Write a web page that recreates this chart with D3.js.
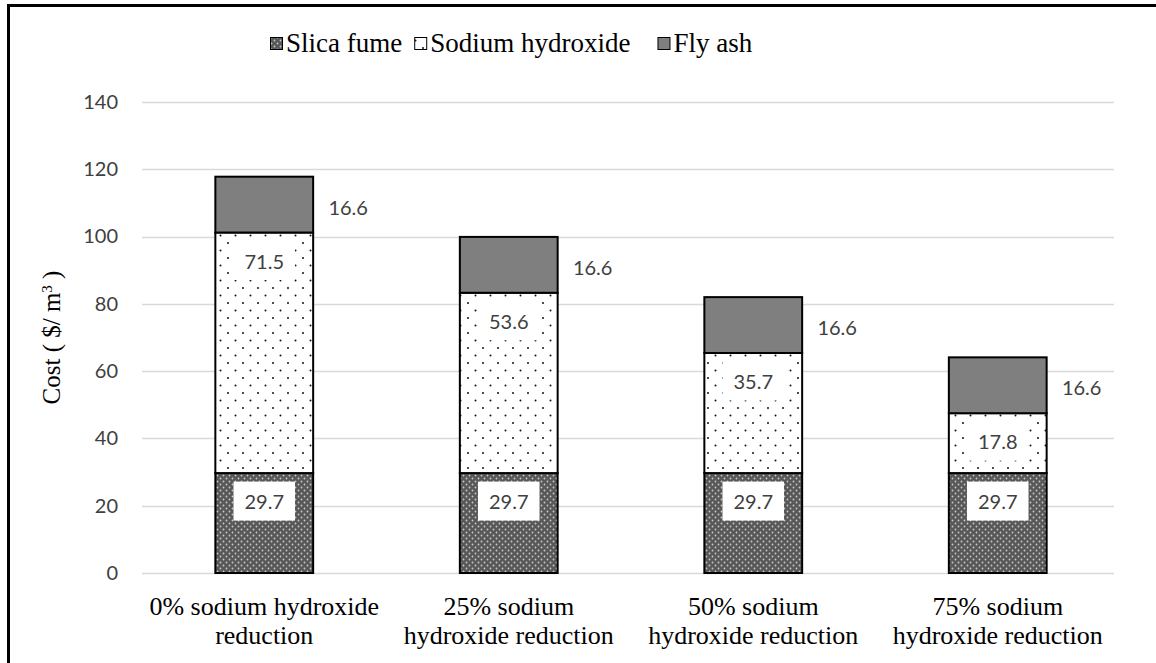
<!DOCTYPE html>
<html>
<head>
<meta charset="utf-8">
<script src="https://cdn.jsdelivr.net/npm/d3@7"></script>
<style>
  html, body { margin: 0; padding: 0; background: #fff; }
  svg { display: block; }
  .serif { font-family: "Liberation Serif", "Times New Roman", serif; fill: #000; }
  .sans { font-family: Lato, "Liberation Sans", sans-serif; fill: #404040; }
</style>
</head>
<body>
<svg id="chart" width="1156" height="663"></svg>
<script>
// Cost breakdown per mix ($/m3)
const categories = [
  "0% sodium hydroxide\nreduction",
  "25% sodium\nhydroxide reduction",
  "50% sodium\nhydroxide reduction",
  "75% sodium\nhydroxide reduction"
];
const seriesNames = ["Slica fume", "Sodium hydroxide", "Fly ash"];
const silicaFume = [29.7, 29.7, 29.7, 29.7];
const sodiumHydroxide = [71.5, 53.6, 35.7, 17.8];
const flyAsh = [16.6, 16.6, 16.6, 16.6];
const yTicks = [0, 20, 40, 60, 80, 100, 120, 140];

const W = 1156, H = 663;
const margin = { left: 142, right: 36, top: 102, bottom: 90 };
const svg = d3.select("#chart");

// Fill patterns
const defs = svg.append("defs");
const pSilica = defs.append("pattern").attr("id", "pat-silica")
  .attr("patternUnits", "userSpaceOnUse").attr("width", 6).attr("height", 6);
pSilica.append("rect").attr("width", 6).attr("height", 6).attr("fill", "#585858");
pSilica.append("circle").attr("cx", 1.5).attr("cy", 1.5).attr("r", 0.9).attr("fill", "#c9c9c9");
pSilica.append("circle").attr("cx", 4.5).attr("cy", 4.5).attr("r", 0.9).attr("fill", "#c9c9c9");

const pSodium = defs.append("pattern").attr("id", "pat-sodium")
  .attr("patternUnits", "userSpaceOnUse").attr("width", 15).attr("height", 15);
pSodium.append("rect").attr("width", 15).attr("height", 15).attr("fill", "#fff");
pSodium.append("circle").attr("cx", 3).attr("cy", 3).attr("r", 1).attr("fill", "#111");
pSodium.append("circle").attr("cx", 10.5).attr("cy", 10.5).attr("r", 1).attr("fill", "#111");

const fills = ["url(#pat-silica)", "url(#pat-sodium)", "#7f7f7f"];

// Outer frame (top and left edges)
svg.append("line").attr("x1", 7).attr("x2", W).attr("y1", 5.5).attr("y2", 5.5)
  .attr("stroke", "#000").attr("stroke-width", 3);
svg.append("line").attr("x1", 8.5).attr("x2", 8.5).attr("y1", 4).attr("y2", H)
  .attr("stroke", "#000").attr("stroke-width", 3);

const x = d3.scaleBand()
  .domain(d3.range(categories.length))
  .range([margin.left, W - margin.right])
  .paddingInner(0.6).paddingOuter(0.3);

const y = d3.scaleLinear().domain([0, 140]).range([H - margin.bottom, margin.top]);

// Gridlines
svg.append("g").selectAll("line").data(yTicks).join("line")
  .attr("x1", margin.left).attr("x2", W - margin.right - 6)
  .attr("y1", d => Math.round(y(d)) + 0.5).attr("y2", d => Math.round(y(d)) + 0.5)
  .attr("stroke", "#d9d9d9").attr("stroke-width", 1.5);

// Y axis labels
const yAxis = d3.axisLeft(y).tickValues(yTicks).tickSize(0).tickPadding(0);
const gy = svg.append("g").attr("transform", `translate(${margin.left - 24},0)`).call(yAxis);
gy.select(".domain").remove();
gy.attr("font-family", null).attr("font-size", null);
gy.selectAll("text").attr("class", "sans").attr("fill", null).style("font-size", "20px");

// Y axis title
const yTitle = svg.append("text")
  .attr("class", "serif")
  .attr("transform", `translate(60,${(y(0) + y(140)) / 2}) rotate(-90)`)
  .attr("text-anchor", "middle")
  .style("font-size", "25px");
yTitle.append("tspan").text("Cost ( $/ m");
yTitle.append("tspan").attr("baseline-shift", "super").style("font-size", "15px").text("3");
yTitle.append("tspan").text(" )");

// Stacked bars
const rows = categories.map((c, i) => ({ i, s0: silicaFume[i], s1: sodiumHydroxide[i], s2: flyAsh[i] }));
const stack = d3.stack().keys(["s0", "s1", "s2"])(rows);
const seriesValues = [silicaFume, sodiumHydroxide, flyAsh];

const barG = svg.append("g");
stack.forEach((layer, k) => {
  barG.append("g").selectAll("rect").data(layer).join("rect")
    .attr("x", d => x(d.data.i))
    .attr("y", d => y(d[1]))
    .attr("width", x.bandwidth())
    .attr("height", d => y(d[0]) - y(d[1]))
    .attr("fill", fills[k])
    .attr("stroke", "#000").attr("stroke-width", 2);
});

// Data labels
const labelG = svg.append("g");
function addLabel(cx, cy, txt, boxed) {
  const g = labelG.append("g");
  const t = g.append("text").attr("class", "sans").attr("x", cx).attr("y", cy)
    .attr("text-anchor", "middle").attr("dominant-baseline", "central")
    .style("font-size", "20px").text(txt);
  if (boxed) {
    const bb = t.node().getBBox();
    g.insert("rect", "text")
      .attr("x", cx - bb.width / 2 - 11).attr("y", cy - 19.5)
      .attr("width", bb.width + 22).attr("height", 39).attr("fill", "#fff");
  }
}
stack.forEach((layer, k) => {
  layer.forEach(d => {
    const val = seriesValues[k][d.data.i];
    const top = y(d[1]);
    if (k === 2) {
      addLabel(x(d.data.i) + x.bandwidth() + 35, top + 30, val.toFixed(1), false);
    } else {
      addLabel(x(d.data.i) + x.bandwidth() / 2, top + 28, val.toFixed(1), true);
    }
  });
});

// Category labels
const catG = svg.append("g");
categories.forEach((c, i) => {
  const cx = x(i) + x.bandwidth() / 2;
  const t = catG.append("text").attr("class", "serif").attr("text-anchor", "middle")
    .attr("x", cx).attr("y", 615).style("font-size", "26px");
  c.split("\n").forEach((line, j) => {
    t.append("tspan").attr("x", cx).attr("dy", j === 0 ? 0 : 29).text(line);
  });
});

// Legend
const legend = svg.append("g");
let lx = 270;
const gaps = [12, 27];
seriesNames.forEach((name, k) => {
  legend.append("rect").attr("x", lx + 0.5).attr("y", 37.5).attr("width", 12).attr("height", 12)
    .attr("fill", fills[k]).attr("stroke", "#000").attr("stroke-width", 1);
  const t = legend.append("text").attr("class", "serif").attr("x", lx + 16).attr("y", 52)
    .style("font-size", "27px").text(name);
  lx += 16 + t.node().getComputedTextLength() + (gaps[k] || 0);
});
</script>
</body>
</html>
